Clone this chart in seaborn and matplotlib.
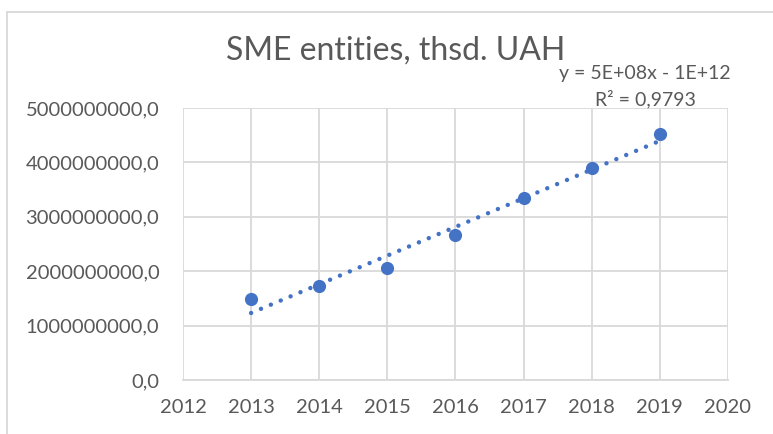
import numpy as np
import pandas as pd
import seaborn as sns
import matplotlib.pyplot as plt
from matplotlib.patches import Rectangle

years = [2013, 2014, 2015, 2016, 2017, 2018, 2019]
sme_values = [1.49e9, 1.72e9, 2.05e9, 2.67e9, 3.34e9, 3.90e9, 4.53e9]
y_ticks = [0, 1e9, 2e9, 3e9, 4e9, 5e9]
x_ticks = [2012, 2013, 2014, 2015, 2016, 2017, 2018, 2019, 2020]

TEXT = "#595959"
BLUE = "#4472C4"
GRID = "#d9d9d9"


def main():
    sns.set_theme(style="white")
    plt.rcParams['font.family'] = ['Lato', 'DejaVu Sans']

    df = pd.DataFrame({"year": years, "value": sme_values})
    slope, intercept = np.polyfit(df["year"], df["value"], 1)
    df["trend"] = slope * df["year"] + intercept

    fig = plt.figure(figsize=(7.73, 4.34), dpi=100)
    ax = fig.add_axes([0.2367, 0.1244, 0.705, 0.6267])

    sns.lineplot(data=df, x="year", y="trend", ax=ax, color=BLUE,
                 linestyle=(0, (0.01, 2.4)), linewidth=3.2,
                 dash_capstyle="round")
    sns.scatterplot(data=df, x="year", y="value", ax=ax, color=BLUE,
                    s=90, edgecolor=BLUE, linewidth=0, zorder=3)

    ax.set_xlim(2012, 2020)
    ax.set_ylim(0, 5e9)
    ax.set_xticks(x_ticks)
    ax.set_yticks(y_ticks)
    ax.set_xticklabels([str(x) for x in x_ticks])
    ax.set_yticklabels([f"{v:.1f}".replace(".", ",") for v in y_ticks])
    ax.tick_params(colors=TEXT, labelsize=14.5, length=0)
    ax.tick_params(axis="y", pad=17)
    ax.tick_params(axis="x", pad=14)
    ax.set_xlabel("")
    ax.set_ylabel("")
    ax.grid(True, color=GRID, linewidth=1.3)
    for side in ["top", "right", "left"]:
        ax.spines[side].set_visible(False)
    ax.spines["bottom"].set_color(GRID)
    ax.spines["bottom"].set_linewidth(1.3)

    fig.text(396 / 773, 1 - 51 / 434, "SME entities, thsd. UAH", ha="center",
             va="center", fontsize=23, color=TEXT)
    fig.text(645 / 773, 1 - 73 / 434, "y = 5E+08x - 1E+12", ha="center",
             va="center", fontsize=14, color=TEXT)
    fig.text(645 / 773, 1 - 99 / 434, "R² = 0,9793", ha="center",
             va="center", fontsize=14, color=TEXT)

    fig.patches.append(Rectangle((0.009, -0.05), 1.1, 1.022,
                                 transform=fig.transFigure, fill=False,
                                 edgecolor=GRID, linewidth=1.3))

    fig.savefig("out.png", dpi=100)
    plt.close(fig)


if __name__ == "__main__":
    main()
